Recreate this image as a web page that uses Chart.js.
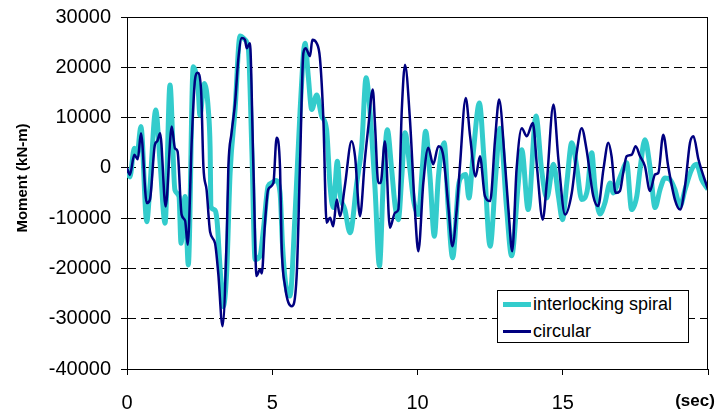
<!DOCTYPE html>
<html><head><meta charset="utf-8">
<script src="https://cdn.jsdelivr.net/npm/chart.js@4.4.0/dist/chart.umd.min.js"></script>
<style>
html,body{margin:0;padding:0;background:#fff;}
#wrap{position:relative;width:720px;height:416px;overflow:hidden;}
#legend{position:absolute;left:497px;top:290px;width:190px;height:51px;border:1px solid #000;background:#fff;font:18px 'Liberation Sans',Arial,sans-serif;color:#000;}
.row{position:absolute;left:0;height:22px;display:flex;align-items:center;white-space:nowrap;}
.sw{display:inline-block;width:28px;margin-left:5px;margin-right:2px;}
</style></head><body>
<div id="wrap"><canvas id="c" width="720" height="416"></canvas>
<div id="legend">
 <div class="row" style="top:2px"><span class="sw" style="height:5px;background:#33CCCC"></span><span>interlocking spiral</span></div>
 <div class="row" style="top:29px"><span class="sw" style="height:3px;background:#000080"></span><span>circular</span></div>
</div></div>
<script>
// ---- data (time in sec, moment in kN-m) ----
const spiralTime = [0,0.10,0.25,0.34,0.48,0.68,0.79,0.99,1.14,1.31,1.48,1.65,1.79,1.86,2.00,2.11,2.28,2.45,2.51,2.66,2.80,2.86,2.89,3.01,3.10,3.20,3.31,3.43,3.55,3.72,3.89,4.06,4.18,4.30,4.41,4.58,4.70,4.86,4.98,5.12,5.27,5.35,5.45,5.61,5.78,5.96,6.13,6.24,6.36,6.53,6.70,6.87,6.99,7.10,7.24,7.33,7.50,7.68,7.91,8.08,8.23,8.36,8.54,8.69,8.83,8.96,9.11,9.23,9.34,9.46,9.57,9.74,9.86,10.03,10.17,10.28,10.43,10.58,10.72,10.92,11.06,11.21,11.41,11.54,11.66,11.77,11.92,12.13,12.29,12.50,12.69,12.84,13.07,13.24,13.47,13.59,13.81,14.08,14.27,14.45,14.68,14.85,14.99,15.14,15.31,15.48,15.65,15.84,16.00,16.11,16.28,16.45,16.63,16.74,16.86,17.03,17.20,17.37,17.55,17.66,17.83,18.00,18.18,18.35,18.52,18.69,18.86,19.04,19.21,19.44,19.61,19.78,20.00];
const spiralMoment = [-1000,-1800,3900,2300,8200,-10700,-3700,11500,900,-11000,16500,-4400,-5700,-15000,-5700,-19300,20100,15500,10500,16800,11500,4200,-7700,-8300,-10500,-19600,-27600,-20900,-1000,11600,26200,25500,23500,3000,-18200,-17500,-12000,-3600,-3000,-2500,-5000,-15000,-22500,-25500,-9900,11600,24800,18200,11600,14500,10300,7600,-3600,-7900,1300,-5000,-8300,-12900,-3000,4300,17900,11600,-4300,-19500,-1700,7600,-300,-7600,-10300,-1700,7000,-300,-6300,-9300,300,7300,-1700,-13600,-1700,5000,-8300,-17900,-3600,-1700,-1300,-6000,3000,12900,1700,-15600,-1700,7900,-8300,-17500,-3000,3600,-8300,10300,-300,-6000,700,-5600,-10300,-3000,5000,300,-6300,-4600,3000,-4000,-9200,-7000,-3000,-5000,-3600,-1000,1000,-8300,-5600,-300,5600,300,-7900,-4300,-2000,-2300,-4300,-7600,-4300,-300,700,-2300,-4300];
const circularTime = [0,0.10,0.25,0.37,0.48,0.68,0.79,0.96,1.04,1.14,1.33,1.54,1.65,1.74,1.88,2.00,2.09,2.23,2.34,2.43,2.55,2.63,2.74,2.86,3.03,3.14,3.29,3.43,3.49,3.60,3.72,3.83,3.95,4.06,4.12,4.23,4.35,4.46,4.58,4.64,4.75,4.86,5.04,5.15,5.27,5.32,5.44,5.67,5.84,5.96,6.07,6.15,6.30,6.38,6.53,6.64,6.76,6.87,6.99,7.10,7.22,7.33,7.50,7.73,7.85,8.02,8.19,8.31,8.46,8.54,8.65,8.73,8.88,9.05,9.23,9.34,9.46,9.57,9.74,9.91,10.03,10.20,10.37,10.54,10.72,10.89,11.06,11.20,11.35,11.46,11.66,11.81,12.00,12.15,12.32,12.50,12.67,12.81,13.01,13.13,13.26,13.41,13.59,13.76,13.97,14.12,14.31,14.45,14.68,14.85,15.08,15.31,15.48,15.65,15.82,16.05,16.22,16.40,16.57,16.68,16.82,16.97,17.08,17.20,17.37,17.51,17.66,17.83,18.00,18.18,18.29,18.46,18.63,18.86,19.04,19.21,19.38,19.50,19.67,20.00];
const circularMoment = [0,-1400,2600,1700,6900,-7000,-6300,4600,5300,6900,-7700,8200,3900,3300,-9300,-10500,-15300,5600,17500,18900,15500,300,-4400,-12700,-15000,-20900,-31500,-14300,300,7000,12900,21500,25800,25500,23800,24800,300,-21500,-20200,-21000,-10900,-4300,-3000,6000,-300,-14900,-23500,-27500,-21500,1700,22800,23800,22200,25500,24800,21900,9600,-10900,-9900,-11600,-6300,-9600,-3600,5300,2300,-9600,1700,8300,15600,8300,-3000,-3000,5300,-11900,-8900,-8300,11600,20500,9600,-8300,-16600,-3000,4000,700,4300,2300,-7600,-15600,-8300,300,13900,6300,-1700,2300,-5600,-6600,5600,13600,1000,-8300,-16600,-300,7900,6300,8900,-300,-10300,-3000,12600,1700,-9300,-5000,3000,7900,3600,-5600,-7600,-300,5000,2300,-5000,-4600,-1000,2300,2600,4300,2300,300,-4600,-1300,-1000,6600,300,-6300,-8300,-3600,5000,6300,1700,-4300];
const xTickValues = [0,5,10,15,20];
const xTickLabels = ['0','5','10','15',''];
const yTickValues = [-40000,-30000,-20000,-10000,0,10000,20000,30000];
const yTickLabels = ['-40000','-30000','-20000','-10000','0','10000','20000','30000'];
const seriesNames = ['interlocking spiral','circular'];
const xUnitLabel = '(sec)';
const yTitle = 'Moment (kN-m)';

const FONT = "'Liberation Sans', Arial, sans-serif";
const pts = (xs, ys) => xs.map((x, i) => ({x, y: ys[i]}));

const decor = {
  id: 'decor',
  afterDatasetsDraw(chart) {
    const {ctx, chartArea: a} = chart;
    ctx.save();
    ctx.strokeStyle = '#000';
    ctx.lineWidth = 1;
    ctx.beginPath();
    const top = Math.round(a.top) + 0.5, right = Math.round(a.right) - 0.5;
    ctx.moveTo(a.left, top); ctx.lineTo(right, top); ctx.lineTo(right, a.bottom);
    ctx.stroke();
    ctx.restore();
  },
  afterDraw(chart) {
    const ctx = chart.ctx;
    ctx.save();
    ctx.fillStyle = '#000';
    ctx.font = "bold 15px " + FONT;
    ctx.textAlign = 'center';
    ctx.textBaseline = 'middle';
    ctx.translate(23, 178);
    ctx.rotate(-Math.PI / 2);
    ctx.fillText(yTitle, 0, 0);
    ctx.restore();
    ctx.save();
    ctx.fillStyle = '#000';
    ctx.font = "bold 17px " + FONT;
    ctx.textAlign = 'center';
    ctx.textBaseline = 'middle';
    ctx.fillText(xUnitLabel, 695, 401);
    ctx.restore();
  }
};

new Chart(document.getElementById('c'), {
  type: 'line',
  data: {
    datasets: [
      {label: seriesNames[0], data: pts(spiralTime, spiralMoment), borderColor: '#33CCCC', borderWidth: 5, pointRadius: 0, cubicInterpolationMode: 'monotone', order: 2, fill: false},
      {label: seriesNames[1], data: pts(circularTime, circularMoment), borderColor: '#000080', borderWidth: 2.5, pointRadius: 0, cubicInterpolationMode: 'monotone', order: 1, fill: false}
    ]
  },
  options: {
    responsive: false,
    animation: false,
    events: [],
    layout: {padding: {top: 17, right: 12, left: 0, bottom: 0}},
    plugins: {legend: {display: false}, tooltip: {enabled: false}},
    scales: {
      x: {
        type: 'linear', min: 0, max: 20,
        afterBuildTicks: s => { s.ticks = xTickValues.map(v => ({value: v})); },
        afterFit: s => { s.height = 47; s.paddingLeft = 0; s.paddingRight = 0; },
        ticks: {color: '#000', font: {family: FONT, size: 20}, padding: 16, maxRotation: 0, autoSkip: false,
          callback: v => { const i = xTickValues.indexOf(v); return i >= 0 ? xTickLabels[i] : ''; }},
        grid: {drawOnChartArea: false, drawTicks: true, tickLength: 6, color: '#000', tickColor: '#000'},
        border: {display: true, color: '#000', width: 1}
      },
      y: {
        type: 'linear', min: -40000, max: 30000,
        afterBuildTicks: s => { s.ticks = yTickValues.map(v => ({value: v})); },
        afterFit: s => { s.width = 127; s.paddingTop = 0; s.paddingBottom = 0; },
        ticks: {color: '#000', font: {family: FONT, size: 20}, padding: 10, autoSkip: false,
          callback: v => { const i = yTickValues.indexOf(v); return i >= 0 ? yTickLabels[i] : ''; }},
        grid: {drawOnChartArea: true, drawTicks: true, tickLength: 6, color: '#000', tickColor: '#000', lineWidth: 1},
        border: {display: true, color: '#000', width: 1, dash: [8, 5]}
      }
    }
  },
  plugins: [decor]
});
</script>
</body></html>
